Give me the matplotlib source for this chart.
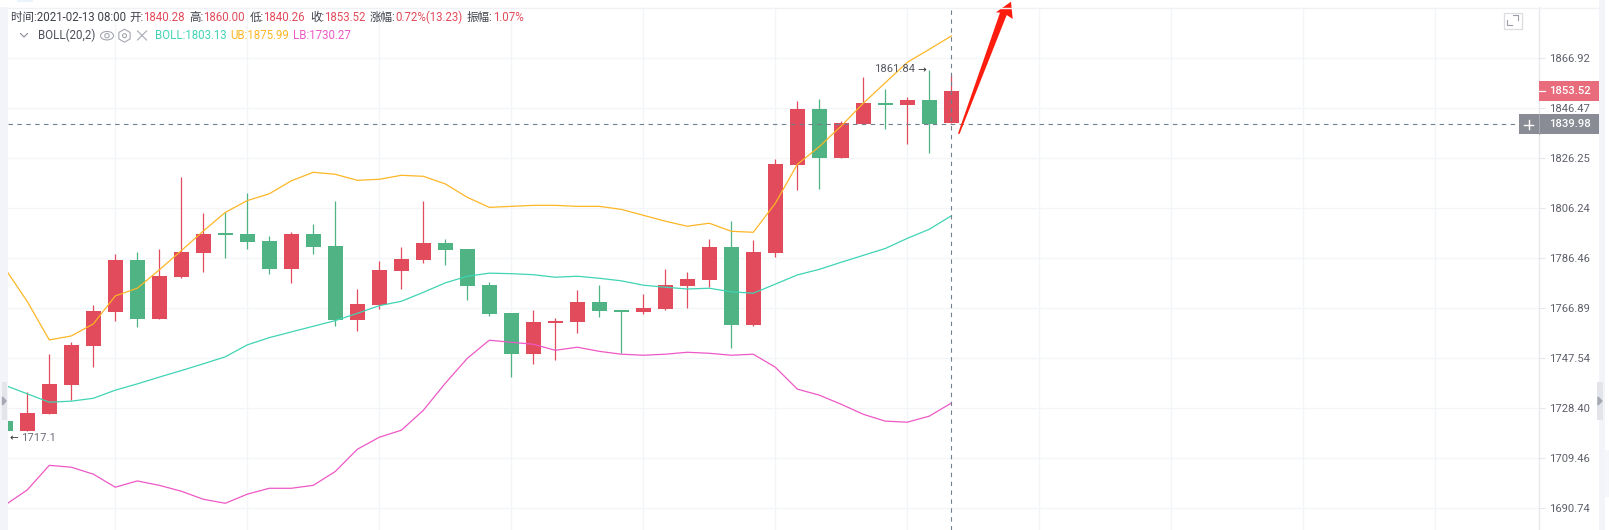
import numpy as np
import matplotlib
matplotlib.use('Agg')
import matplotlib.pyplot as plt
from matplotlib.lines import Line2D
from matplotlib.patches import Rectangle, Polygon, Ellipse, Circle, RegularPolygon
from matplotlib.transforms import Affine2D

plt.rcParams['font.family'] = ['Roboto', 'Noto Sans CJK SC', 'DejaVu Sans']

# candles
opens = [1723.5, 1719.8, 1726.2, 1737.3, 1752.3, 1765.5, 1785.7, 1762.75, 1779.1, 1788.5, 1796.35,
         1795.95, 1793.2, 1782.3, 1795.95, 1791.2, 1762.4, 1768.1, 1781.5, 1785.8, 1792.4, 1790.0,
         1775.9, 1765.0, 1749.2, 1761.1, 1761.6, 1769.2, 1766.1, 1765.3, 1766.5, 1775.5, 1778.0,
         1790.8, 1760.4, 1788.5, 1823.6, 1846.07, 1826.4, 1840.0, 1848.5, 1847.7, 1849.7, 1840.28]
highs = [1725.0, 1734.4, 1749.0, 1753.7, 1768.1, 1788.0, 1788.7, 1790.0, 1818.5, 1804.4, 1804.8,
         1812.1, 1795.2, 1796.75, 1800.0, 1809.0, 1774.3, 1785.3, 1790.9, 1809.0, 1794.0, 1790.0,
         1777.1, 1765.0, 1766.1, 1763.0, 1773.9, 1776.0, 1766.1, 1772.4, 1782.2, 1781.0, 1794.0,
         1801.1, 1793.6, 1826.0, 1849.3, 1850.1, 1841.1, 1859.0, 1854.1, 1850.97, 1861.84, 1860.0]
lows = [1717.1, 1719.7, 1726.0, 1731.5, 1744.2, 1761.7, 1759.4, 1762.6, 1778.8, 1781.1, 1786.6,
        1790.0, 1780.1, 1776.8, 1787.9, 1760.0, 1758.1, 1766.6, 1774.3, 1784.6, 1783.6, 1770.1,
        1763.9, 1740.2, 1745.1, 1746.9, 1757.3, 1763.4, 1749.5, 1764.7, 1766.0, 1766.8, 1775.2,
        1751.5, 1760.0, 1787.0, 1813.4, 1813.96, 1826.4, 1839.8, 1838.0, 1832.0, 1828.4, 1840.26]
closes = [1719.8, 1726.5, 1737.6, 1752.6, 1765.7, 1785.7, 1762.75, 1779.4, 1788.8, 1795.95, 1795.6,
          1792.9, 1782.3, 1795.95, 1790.9, 1762.4, 1768.45, 1781.8, 1786.07, 1792.4, 1789.75, 1775.6,
          1764.7, 1749.2, 1761.5, 1761.9, 1769.2, 1765.85, 1765.3, 1766.9, 1775.9, 1778.2, 1790.8,
          1760.4, 1788.8, 1823.85, 1846.07, 1826.4, 1840.4, 1848.5, 1847.7, 1849.7, 1840.0, 1853.52]

# bollinger bands
ub = [1782.2, 1769.4, 1754.5, 1756.05, 1760.7, 1771.6, 1774.6, 1781.8, 1789.35, 1797.1, 1804.5,
      1809.2, 1811.9, 1817.1, 1820.5, 1819.7, 1817.3, 1817.7, 1819.3, 1818.9, 1815.85, 1810.5,
      1806.5, 1806.9, 1807.3, 1807.3, 1806.9, 1806.9, 1805.7, 1803.35, 1801.0, 1799.0, 1800.2,
      1797.0, 1796.6, 1808.1, 1823.7, 1830.8, 1839.2, 1848.4, 1856.8, 1865.15, 1870.5, 1875.99]
boll = [1737.0, 1733.8, 1730.6, 1731.0, 1732.1, 1735.2, 1737.6, 1740.2, 1742.7, 1745.3, 1748.0,
        1752.6, 1755.4, 1757.6, 1759.8, 1762.0, 1764.8, 1767.8, 1769.5, 1773.0, 1776.7, 1779.3,
        1780.5, 1780.3, 1779.9, 1778.9, 1779.3, 1778.5, 1777.5, 1775.8, 1775.0, 1774.3, 1774.6,
        1773.2, 1772.65, 1776.2, 1779.8, 1782.0, 1784.8, 1787.5, 1790.2, 1794.2, 1797.8, 1803.13]
lb = [1691.9, 1697.5, 1706.7, 1706.0, 1703.4, 1698.5, 1700.85, 1699.2, 1697.0, 1694.0, 1692.5,
      1695.9, 1698.1, 1698.1, 1699.2, 1704.4, 1712.75, 1717.3, 1719.95, 1727.5, 1737.85, 1747.4,
      1754.4, 1753.6, 1752.85, 1750.5, 1751.7, 1750.1, 1749.0, 1748.6, 1749.0, 1749.75, 1749.35,
      1748.6, 1749.0, 1744.0, 1735.6, 1733.3, 1729.8, 1726.0, 1723.4, 1723.0, 1725.3, 1730.27]

ytick_vals = [1690.74, 1709.46, 1728.40, 1747.54, 1766.89, 1786.46, 1806.24, 1826.25, 1846.47, 1866.92]
cross_price = 1839.98
last_price = 1853.52

RED = '#e24b5b'
GREEN = '#4fb384'
YELLOW = '#fdb626'
TEAL = '#40d4b4'
PINK = '#ee58c6'
GRID = '#f3f5f8'
TEXT = '#5d606b'

W, H = 1609, 530
fig = plt.figure(figsize=(W / 100, H / 100), dpi=100, facecolor='white')
# pixel coords with origin top left, for the chrome around the chart
px = Affine2D().scale(1, -1).translate(0, H)

ax = fig.add_axes([8 / W, 0, (1539 - 8) / W, (H - 7) / H])
ax.set_yscale('log')
# 50 px between ticks, the price axis is logarithmic
k = np.log(ytick_vals[-1] / ytick_vals[0]) / 450
ax.set_ylim(ytick_vals[0] * np.exp(-k * 22), ytick_vals[-1] * np.exp(k * 51))
ax.set_xlim((8 - 5.3) / 22, (1539 - 5.3) / 22)

idx = np.arange(len(opens))
for i in idx:
    col = RED if closes[i] >= opens[i] else GREEN
    ax.vlines(i, lows[i], highs[i], color=col, lw=0.9, zorder=3)
    ax.bar(i, abs(closes[i] - opens[i]), bottom=min(opens[i], closes[i]), width=0.68, color=col,
           linewidth=0, zorder=3)

ax.plot(idx, ub, color=YELLOW, lw=0.9, zorder=4)
ax.plot(idx, boll, color=TEAL, lw=0.9, zorder=4)
ax.plot(idx, lb, color=PINK, lw=0.9, zorder=4)

ax.axhline(cross_price, color='#71808c', lw=0.8, dashes=(4, 4), zorder=5)
ax.axvline(idx[-1], color='#71808c', lw=0.8, dashes=(4, 4), zorder=5)

ax.yaxis.tick_right()
ax.minorticks_off()
ax.set_yticks(ytick_vals)
ax.set_yticklabels(['%.2f' % v for v in ytick_vals], fontsize=8.1, color=TEXT)
ax.tick_params(axis='y', length=4.3, width=0.8, color='#e6e8ec', pad=3)
ax.set_xticks(np.arange(5, 70, 6))
ax.tick_params(axis='x', length=0, labelbottom=False)
ax.grid(True, color=GRID, lw=1)
ax.set_axisbelow(True)
for s in ['left', 'top', 'bottom']:
    ax.spines[s].set_visible(False)
ax.spines['right'].set_color('#e6e8ec')
ax.spines['right'].set_linewidth(1)


def rect(x0, y0, x1, y1, color, **kw):
    fig.add_artist(Rectangle((x0, y0), x1 - x0, y1 - y0, transform=px, facecolor=color,
                             edgecolor=kw.pop('edge', 'none'), **kw))


def line(xs, ys, color, lw=0.8):
    fig.add_artist(Line2D(xs, ys, transform=px, color=color, lw=lw))


def label(x, y, s, color=TEXT, size=8.1, **kw):
    fig.text(x, y, s, transform=px, color=color, fontsize=size, va='center', **kw)


# side strips and top rule
rect(0, 7, 8, H, '#f3f4f9')
rect(1599, 0, 1605, H, '#f3f4f9')
rect(1605, 450, 1609, 497, '#f5f6fa')
rect(17, 0, 33, 2, '#eaf2fb')
line([8, 1599], [7.5, 7.5], '#f0f1f5', 1)
rect(2, 382, 7, 420, '#e3e5ea')
fig.add_artist(Polygon([(2.5, 397), (6, 401), (2.5, 405)], transform=px, color='#a6a9b3'))
rect(1597, 382, 1603, 420, '#e3e5ea')
fig.add_artist(Polygon([(1598, 397), (1602, 401), (1598, 405)], transform=px, color='#a6a9b3'))

# header rows
y1 = 17.3
label(11.3, y1, '时间:2021-02-13 08:00', '#3f424c', 8.3)
for x, name, xv, val in [(129.3, '开:', 143.3, '1840.28'), (189.3, '高:', 203.3, '1860.00'),
                         (249.3, '低:', 263.3, '1840.26'), (310, '收:', 324, '1853.52'),
                         (370, '涨幅:', 395, '0.72%(13.23)'), (466.7, '振幅:', 492.7, '1.07%')]:
    label(x, y1, name, '#3f424c', 8.3)
    label(xv, y1, val, RED, 8.3)

y2 = 35.7
line([20.5, 24, 27.5], [33.5, 37, 33.5], '#8a8d96')
label(37.7, y2, 'BOLL(20,2)', '#4c4f59', 8.3)
fig.add_artist(Ellipse((107, y2), 13, 8.5, transform=px, fill=False, edgecolor='#a4a7b0', lw=0.8))
fig.add_artist(Circle((107, y2), 2.2, transform=px, fill=False, edgecolor='#a4a7b0', lw=0.8))
fig.add_artist(RegularPolygon((124.5, y2), 6, radius=6.5, transform=px, fill=False, edgecolor='#a4a7b0', lw=0.8))
fig.add_artist(Circle((124.5, y2), 2, transform=px, fill=False, edgecolor='#a4a7b0', lw=0.8))
line([137.5, 146.5], [31, 40], '#a4a7b0')
line([137.5, 146.5], [40, 31], '#a4a7b0')
label(155, y2, 'BOLL:1803.13', TEAL, 8.3)
label(230, y2, 'UB:1875.99', YELLOW, 8.3)
label(293, y2, 'LB:1730.27', PINK, 8.3)

# high / low markers
label(9, 438, '←', '#333333', 7.5, family=['DejaVu Sans'])
label(20.7, 438, '1717.1', '#6b6e78')
label(874, 69.5, '1861.84', '#55585f')
label(917, 70, '→', '#333333', 7.5, family=['DejaVu Sans'])

# expand icon
rect(1503.5, 12.5, 1521.5, 28.5, 'none', edge='#dcdde0', lw=0.9)
line([1512.5, 1517.5, 1517.5], [14.5, 14.5, 19.5], '#9a9da5')
line([1506.5, 1506.5, 1511.5], [20, 25, 25], '#9a9da5')

# price tags
rect(1539, 81, 1599, 101, '#e96c7d')
line([1539, 1545], [91, 91], 'white', 0.9)
label(1549, 91, '%.2f' % last_price, 'white', weight='medium')
rect(1519, 114, 1599, 134, '#898c94')
line([1539, 1539], [114, 134], '#a5a7ae', 0.7)
line([1524, 1533], [124.5, 124.5], 'white', 1)
line([1528.5, 1528.5], [120, 129], 'white', 1)
label(1549, 124, '%.2f' % cross_price, 'white', weight='medium')

# red arrow drawn over the chart
fig.add_artist(Polygon([(958, 133.5), (1000, 12.7), (996, 12.3), (1011, 1.7), (1012.7, 19),
                        (1006.7, 15), (959.5, 134)], transform=px, color='#fd1d0e', lw=0))

fig.savefig('out.png', dpi=100)
